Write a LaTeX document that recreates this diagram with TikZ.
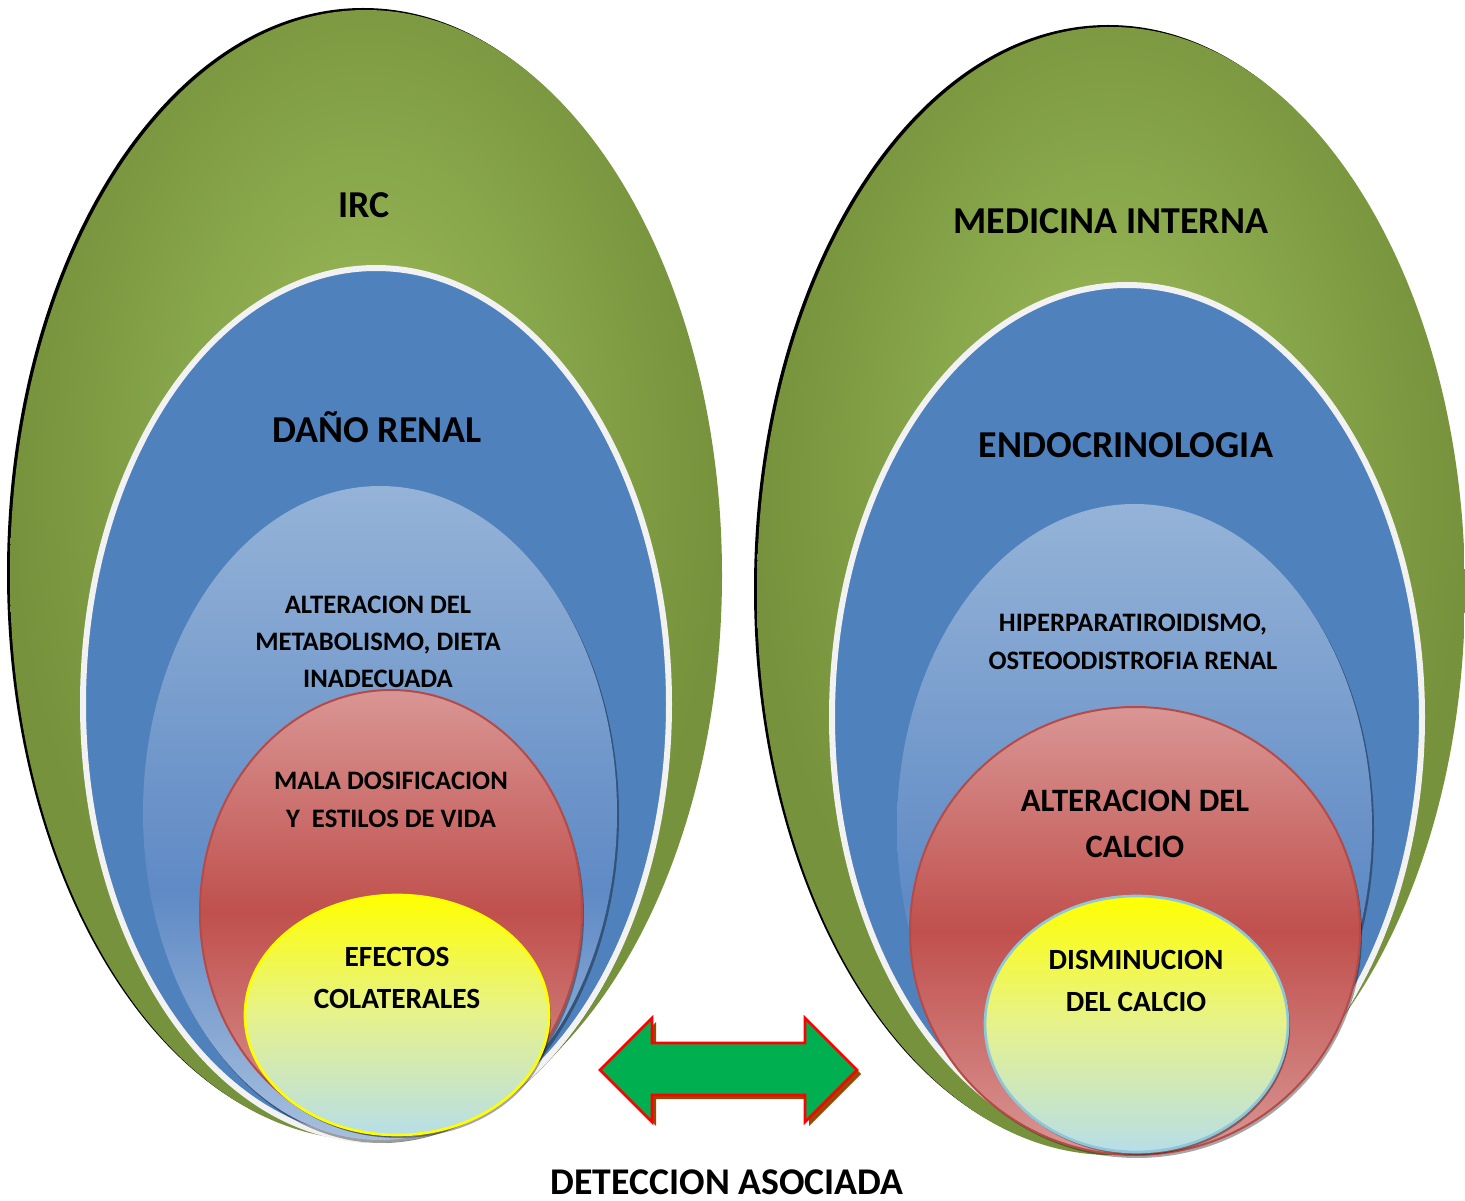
\documentclass[tikz,border=0pt]{standalone}
\usepackage{fontspec}
\setmainfont{Carlito}
\usetikzlibrary{positioning}

\definecolor{grnlt}{HTML}{9BBB59}
\definecolor{grndk}{HTML}{76923C}
\definecolor{bluemd}{HTML}{4F81BD}
\definecolor{rimwh}{HTML}{F2F2F2}
\definecolor{skytp}{HTML}{95B3D7}
\definecolor{skymd}{HTML}{5F8AC5}
\definecolor{skybt}{HTML}{A7BFDE}
\definecolor{redlt}{HTML}{D99694}
\definecolor{redmd}{HTML}{C0504D}
\definecolor{redrim}{HTML}{B64A47}
\definecolor{yeltp}{HTML}{FFFF00}
\definecolor{yelmd}{HTML}{E6F28C}
\definecolor{yelbt}{HTML}{B7DEE8}
\definecolor{aqrim}{HTML}{8CC8DA}
\definecolor{arrgrn}{HTML}{00B050}
\definecolor{arrbrn}{HTML}{984807}

\pgfdeclareradialshading{greenlayer}{\pgfpoint{0bp}{8bp}}{color(0bp)=(grnlt); color(25bp)=(grndk); color(50bp)=(grndk)}
\pgfdeclareverticalshading{skylayer}{100bp}{color(0bp)=(skybt); color(25bp)=(skybt); color(44bp)=(skymd); color(75bp)=(skytp); color(100bp)=(skytp)}
\pgfdeclareverticalshading{redlayer}{100bp}{color(0bp)=(redlt); color(25bp)=(redlt); color(50bp)=(redmd); color(75bp)=(redlt); color(100bp)=(redlt)}
\pgfdeclareverticalshading{yellayer}{100bp}{color(0bp)=(yelbt); color(25bp)=(yelbt); color(50bp)=(yelmd); color(75bp)=(yeltp); color(100bp)=(yeltp)}

\tikzset{every picture/.style={line width=0.75pt}}
\tikzset{
  bigtxt/.style={font=\bfseries\fontsize{28.5}{34}\selectfont, align=center},
  midtxt/.style={font=\bfseries\fontsize{20}{28}\selectfont, align=center},
  smalltxt/.style={font=\bfseries\fontsize{22}{31.5}\selectfont, align=center},
  calctxt/.style={font=\bfseries\fontsize{24.5}{34}\selectfont, align=center},
  layershadow/.style={fill=black, opacity=0.35}
}

\begin{document}
\begin{tikzpicture}[x=0.75pt,y=0.75pt,yscale=-1,xscale=1]
	\path[use as bounding box] (0,0) rectangle (1465,1201);

	%Shape: Ellipse [left green]
	\fill[black] (363,573) ellipse [x radius=356, y radius=565];
	\path[shading=greenlayer] (366,575) ellipse [x radius=356, y radius=565];
	%Shape: Ellipse [left blue]
	\fill[layershadow] (378,707) ellipse [x radius=293, y radius=436];
	\draw[rimwh, line width=4.5, fill=bluemd] (376,704) ellipse [x radius=293, y radius=436];
	%Shape: Ellipse [left sky]
	\fill[layershadow] (382,816) ellipse [x radius=237, y radius=327];
	\path[shading=skylayer] (380,813) ellipse [x radius=237, y radius=327];
	%Shape: Ellipse [left red]
	\fill[layershadow] (393,915) ellipse [x radius=191, y radius=222];
	\path[shading=redlayer, draw=redrim, line width=1.5] (391,912) ellipse [x radius=191, y radius=222];
	%Shape: Ellipse [left yellow]
	\fill[layershadow] (399,1018) ellipse [x radius=152, y radius=120];
	\path[shading=yellayer, draw=yeltp, line width=2] (397,1015) ellipse [x radius=152, y radius=120];

	%Shape: Ellipse [right green]
	\fill[black] (1108,589) ellipse [x radius=354, y radius=564];
	\path[shading=greenlayer] (1111,591) ellipse [x radius=354, y radius=564];
	%Shape: Ellipse [right blue]
	\fill[layershadow] (1129,720) ellipse [x radius=295, y radius=432];
	\draw[rimwh, line width=4.5, fill=bluemd] (1127,717) ellipse [x radius=295, y radius=432];
	%Shape: Ellipse [right sky]
	\fill[layershadow] (1136.5,830) ellipse [x radius=237.5, y radius=323];
	\path[shading=skylayer] (1134.5,827) ellipse [x radius=237.5, y radius=323];
	%Shape: Ellipse [right red]
	\fill[layershadow] (1137,934) ellipse [x radius=225, y radius=224];
	\path[shading=redlayer, draw=redrim, line width=1.5] (1135,931) ellipse [x radius=225, y radius=224];
	%Shape: Ellipse [right yellow]
	\fill[layershadow] (1138.5,1027) ellipse [x radius=151.5, y radius=128];
	\path[shading=yellayer, draw=aqrim, line width=2] (1136.5,1024) ellipse [x radius=151.5, y radius=128];

	%Shape: Double Arrow
	\fill[arrbrn] (604,1074) -- (656,1022) -- (656,1047) -- (809,1047) -- (809,1022) -- (861,1074) -- (809,1126) -- (809,1099) -- (656,1099) -- (656,1126) -- cycle;
	\draw[red, line width=2, fill=arrgrn] (600,1070) -- (652,1018) -- (652,1043) -- (805,1043) -- (805,1018) -- (857,1070) -- (805,1122) -- (805,1095) -- (652,1095) -- (652,1122) -- cycle;

	% Text Node
	\draw (364,205) node (irc) [bigtxt] {IRC};
	% Text Node
	\draw (377,427) node (dano) [bigtxt] {DAÑO RENAL};
	% Text Node
	\draw (378,642) node (metab) [midtxt] {ALTERACION DEL\\METABOLISMO, DIETA\\INADECUADA};
	% Text Node
	\draw (391,800) node (mala) [midtxt] {MALA DOSIFICACION\\Y\ \ ESTILOS DE VIDA};
	% Text Node
	\draw (397,978) node (efectos) [smalltxt] {EFECTOS\\COLATERALES};
	% Text Node
	\draw (1111,221) node (medint) [bigtxt] {MEDICINA INTERNA};
	% Text Node
	\draw (1126,445) node (endo) [bigtxt] {ENDOCRINOLOGIA};
	% Text Node
	\draw (1133,642) node (hiper) [midtxt] {HIPERPARATIROIDISMO,\\OSTEOODISTROFIA RENAL};
	% Text Node
	\draw (1135,824) node (altcal) [calctxt] {ALTERACION DEL\\CALCIO};
	% Text Node
	\draw (1136,981) node (dismin) [smalltxt] {DISMINUCION\\DEL CALCIO};
	% Text Node
	\draw (727,1182) node (deteccion) [font=\bfseries\fontsize{28.3}{33}\selectfont] {DETECCION ASOCIADA};

\end{tikzpicture}
\end{document}
